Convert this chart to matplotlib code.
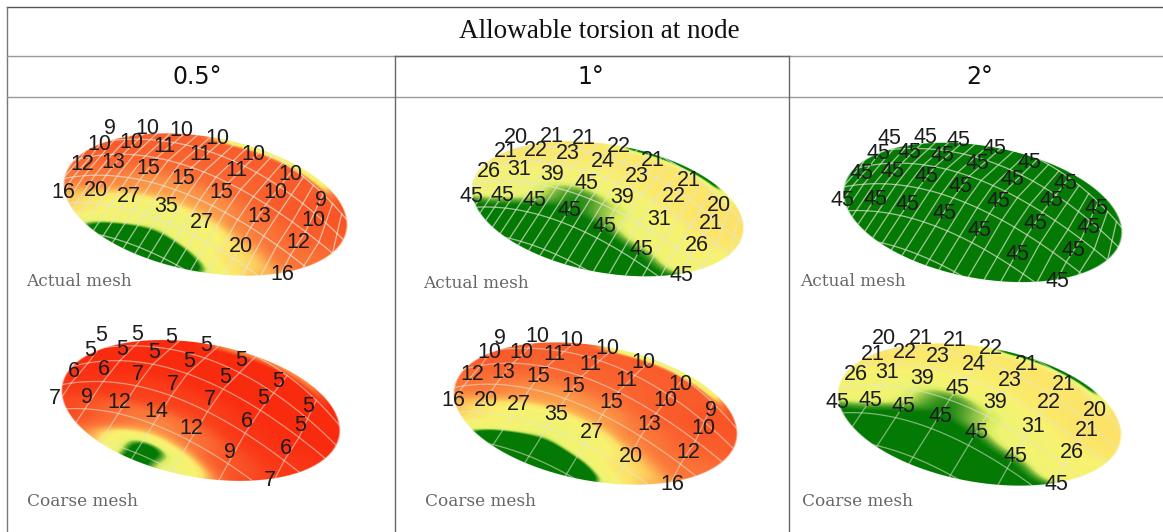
import numpy as np
import matplotlib
matplotlib.use("Agg")
import matplotlib.pyplot as plt
from matplotlib.colors import LinearSegmentedColormap
from matplotlib.patches import Polygon

title = "Allowable torsion at node"
headers = ["0.5°", "1°", "2°"]
mesh_names = ["Actual mesh", "Actual mesh", "Actual mesh", "Coarse mesh", "Coarse mesh", "Coarse mesh"]

# torsion values printed at the nodes, 4 rows of 7
actual_05 = [[9, 10, 10, 10, 10, 10, 9],
             [10, 10, 11, 11, 11, 10, 10],
             [12, 13, 15, 15, 15, 13, 12],
             [16, 20, 27, 35, 27, 20, 16]]
actual_1 = [[20, 21, 21, 22, 21, 21, 20],
            [21, 22, 23, 24, 23, 22, 21],
            [26, 31, 39, 45, 39, 31, 26],
            [45, 45, 45, 45, 45, 45, 45]]
actual_2 = [[45] * 7, [45] * 7, [45] * 7, [45] * 7]
coarse_05 = [[5, 5, 5, 5, 5, 5, 5],
             [5, 5, 5, 5, 5, 5, 5],
             [6, 6, 7, 7, 7, 6, 6],
             [7, 9, 12, 14, 12, 9, 7]]
coarse_1 = actual_05
coarse_2 = actual_1
panels = [actual_05, actual_1, actual_2, coarse_05, coarse_1, coarse_2]

# colour under the lower edge of the shell, no label there
below_actual_05 = [[24, 34, 60, 75, 52, 26, 20], [25, 40, 60, 60, 50, 26, 20]]
below_actual_1 = [[50] * 7, [50] * 7]
below_actual_2 = [[50] * 7, [50] * 7]
below_coarse_05 = [[9, 10, 18, 55, 30, 11, 9], [9, 10, 40, 80, 70, 11, 9]]
below_coarse_1 = [[24, 36, 70, 80, 60, 28, 20], [25, 40, 60, 60, 55, 26, 20]]
below_coarse_2 = [[50] * 7, [50] * 7]
below = [below_actual_05, below_actual_1, below_actual_2, below_coarse_05, below_coarse_1, below_coarse_2]
rim_value = [28, 46, 46, 14, 30, 46]

# label layout of the first panel, in pixels
node_x = [[110, 147, 181, 217, 253, 290, 321],
          [99, 131, 164, 200, 236, 275, 313],
          [82, 113, 148, 183, 221, 259, 298],
          [63, 96, 129, 166, 202, 241, 282]]
node_y = [[129, 128, 131, 139, 154, 175, 201],
          [144, 143, 146, 155, 171, 192, 220],
          [165, 163, 168, 178, 193, 216, 243],
          [192, 191, 196, 206, 223, 247, 275]]

# sx, tx, sy, ty of each panel against the first one
place = [(1, 0, 1, 0), (0.959, 410.6, 0.95, 14.5), (0.982, 781, 0.98, 12),
         (0.982, -7, 0.99, 208), (1, 390, 1, 209), (1, 774, 1, 210)]
shell_shift = [0, 0, 0, 6, 0, 0]
name_pos = [(26, 282), (423, 283), (800, 282), (27, 502), (425, 502), (802, 502)]

cx, cy, ea, eb, tilt = 205.5, 204.5, 144, 67.7, np.radians(10.4)
node_shift = (-8, 12)

cmap = LinearSegmentedColormap.from_list("torsion", [
    (0.0, "#f81e08"), (5 / 45, "#f92c10"), (10 / 45, "#fa5e2c"), (13 / 45, "#fb7c3c"),
    (16 / 45, "#fca84e"), (20 / 45, "#fde268"), (24 / 45, "#f8f270"), (35 / 45, "#eef472"),
    (38 / 45, "#d8ec60"), (41 / 45, "#6cb038"), (44 / 45, "#067c06"), (1.0, "#047a04")])


def smooth(a, b, t):
    s = np.clip((t - a) / (b - a), 0, 1)
    return s * s * (3 - 2 * s)


fig = plt.figure(figsize=(11.63, 5.32), dpi=100)
ax = fig.add_axes([0, 0, 1, 1])

nx = np.array(node_x, float)
ny = np.array(node_y, float)
# rows further out are carried on from the outer labels
full_x = np.vstack([2 * nx[0] - nx[1], nx, 2 * nx[3] - nx[2], 3 * nx[3] - 2 * nx[2]])
full_y = np.vstack([2 * ny[0] - ny[1], ny, 2 * ny[3] - ny[2], 3 * ny[3] - 2 * ny[2]])
full_x = full_x + node_shift[0]
full_y = full_y + node_shift[1]
cols = np.arange(7)
fit_x = [np.polyfit(cols, r, 2) for r in full_x]
fit_y = [np.polyfit(cols, r, 2) for r in full_y]

for k, vals in enumerate(panels):
    sx, tx, sy, ty = place[k]
    # colour field, image pixels taken back to first panel coordinates
    x0, x1 = int(tx + 40 * sx), int(tx + 370 * sx)
    y0, y1 = int(ty + 110 * sy), int(ty + 295 * sy)
    px, py = np.meshgrid(np.arange(x0, x1) + 0.5, np.arange(y0, y1) + 0.5)
    bx = (px - tx) / sx - shell_shift[k] / sx
    by = (py - ty) / sy
    u = (bx - cx) * np.cos(tilt) + (by - cy) * np.sin(tilt)
    v = -(bx - cx) * np.sin(tilt) + (by - cy) * np.cos(tilt)
    r = np.sqrt((u / ea) ** 2 + (v / eb) ** 2)

    fx = nx.ravel() + node_shift[0]
    fy = ny.ravel() + node_shift[1]
    fv = np.array(vals, float).ravel()
    fx = np.concatenate([fx, full_x[5:7].ravel()])
    fy = np.concatenate([fy, full_y[5:7].ravel()])
    fv = np.concatenate([fv, np.array(below[k], float).ravel()])
    fu = (fx - cx) * np.cos(tilt) + (fy - cy) * np.sin(tilt)
    fw = -(fx - cx) * np.sin(tilt) + (fy - cy) * np.cos(tilt)
    d2 = ((u[..., None] - fu) / 22.0) ** 2 + ((v[..., None] - fw) / 10.0) ** 2
    w = np.exp(-d2 / 2) + 1e-12
    field = (w * fv).sum(axis=2) / w.sum(axis=2)

    rim = smooth(0.9, 0.99, r) * smooth(-0.15, 0.15, u / ea) * (1 - smooth(0.7, 0.92, u / ea)) * (v < 0)
    field = np.where(field < rim_value[k], field + (rim_value[k] - field) * rim, field)

    rgba = cmap(np.clip(field / 45, 0, 1))
    rgba[..., 3] = 1 - smooth(0.985, 1.005, r)
    ax.imshow(rgba, extent=(x0, x1, y1, y0), aspect="auto", interpolation="bilinear", zorder=2)

    # outline used to clip the mesh lines
    t = np.linspace(0, 2 * np.pi, 200)
    ox = cx + shell_shift[k] / sx + ea * np.cos(t) * np.cos(tilt) - eb * np.sin(t) * np.sin(tilt)
    oy = cy + ea * np.cos(t) * np.sin(tilt) + eb * np.sin(t) * np.cos(tilt)
    outline = Polygon(np.c_[ox * sx + tx, oy * sy + ty], closed=True, fc="none", ec="none", zorder=2)
    ax.add_patch(outline)

    step = 3 if k < 3 else 1
    dense = np.linspace(-2, 8, 60)
    line_c = "#e4e6d4"
    line_a = 0.7 if k < 3 else 0.55
    for fa, fb in zip(fit_x, fit_y):
        ln, = ax.plot(np.polyval(fa, dense) * sx + tx + shell_shift[k], np.polyval(fb, dense) * sy + ty,
                      color=line_c, lw=0.9, alpha=line_a, zorder=3)
        ln.set_clip_path(outline)
    for c in np.arange(-2, 8 + 1 / step, 1 / step):
        lx = [np.polyval(fa, c) for fa in fit_x]
        ly = [np.polyval(fb, c) for fb in fit_y]
        ln, = ax.plot(np.array(lx) * sx + tx + shell_shift[k], np.array(ly) * sy + ty,
                      color=line_c, lw=0.9, alpha=line_a, zorder=3)
        ln.set_clip_path(outline)

    for i in range(4):
        for j in range(7):
            ax.text(nx[i, j] * sx + tx, ny[i, j] * sy + ty, str(vals[i][j]), family="Liberation Sans",
                    fontsize=15.5, color="#1c1c1c", ha="center", va="center", zorder=5)
    ax.text(name_pos[k][0], name_pos[k][1], mesh_names[k], family="DejaVu Serif", fontsize=12.2,
            color="#666666", ha="left", va="center", zorder=5)

# table rules
ax.plot([7, 1163], [7, 7], color="#555555", lw=1)
ax.plot([7, 7], [7, 532], color="#777777", lw=1)
ax.plot([7, 1163], [56, 56], color="#999999", lw=1)
ax.plot([7, 1163], [97, 97], color="#999999", lw=1)
ax.plot([394.5, 394.5], [56, 532], color="#666666", lw=1)
ax.plot([394.5, 789], [56, 56], color="#666666", lw=1)
ax.plot([789, 789], [56, 532], color="#666666", lw=1)

ax.text(599, 31, title, family="Liberation Serif", fontsize=19.5, color="#111111", ha="center", va="center")
for x, h in zip([197, 591, 980], headers):
    ax.text(x, 77, h, family="DejaVu Sans", fontsize=17, color="#111111", ha="center", va="center")

ax.set_xlim(0, 1163)
ax.set_ylim(532, 0)
ax.axis("off")
fig.savefig("out.png", dpi=100)
